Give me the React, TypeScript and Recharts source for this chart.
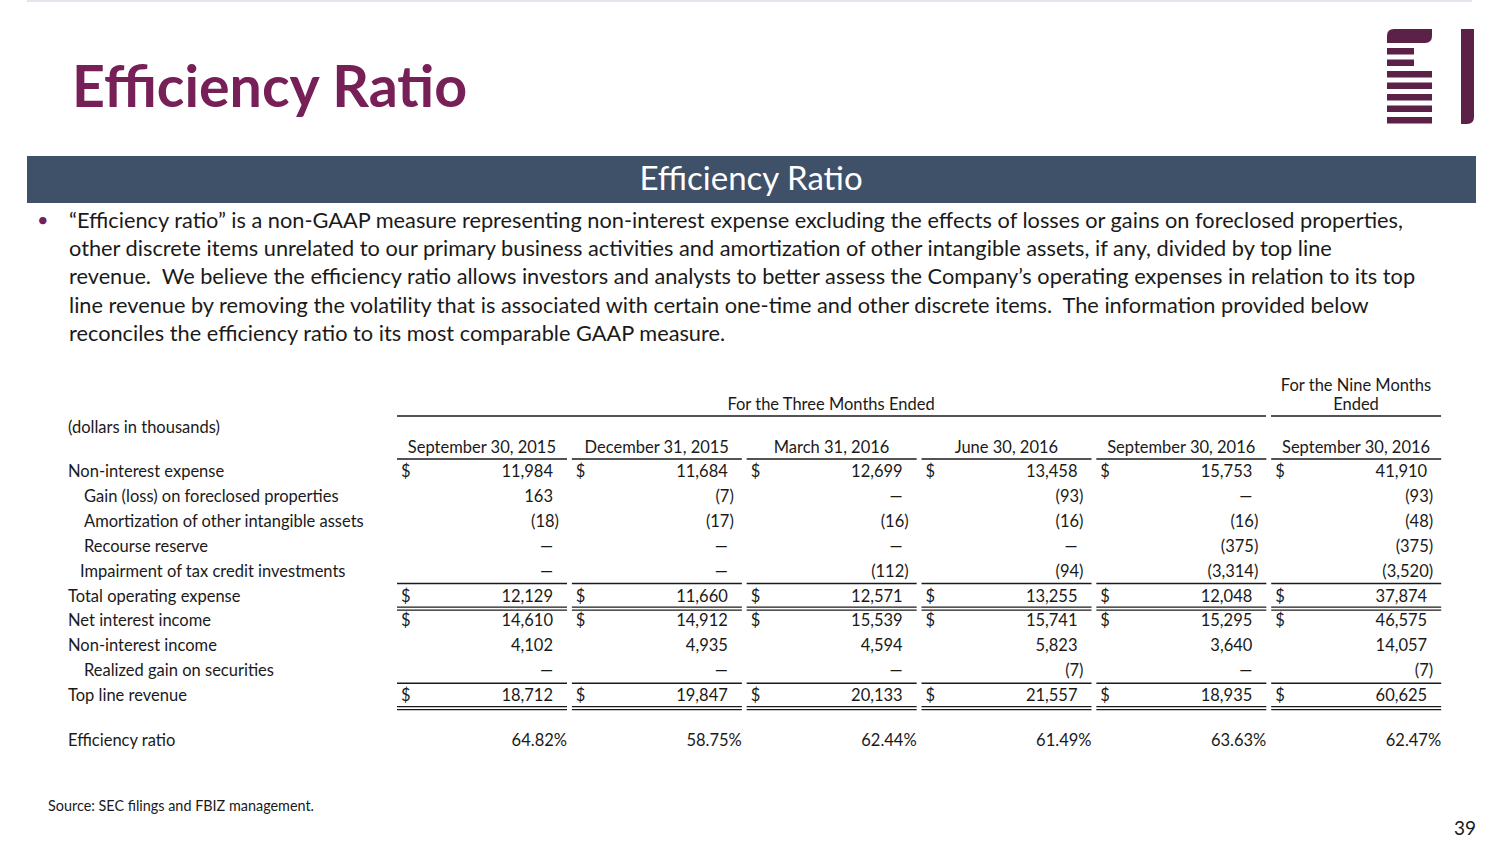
import React from "react";
import { ScatterChart, Scatter, XAxis, YAxis } from "recharts";

// column keys (two columns share the same date label, so keys are separate)
const periodKeys = ["q3_2015", "q4_2015", "q1_2016", "q2_2016", "q3_2016", "ytd_2016"];
const periodLabels = [
  "September 30, 2015",
  "December 31, 2015",
  "March 31, 2016",
  "June 30, 2016",
  "September 30, 2016",
  "September 30, 2016",
];

const rowLabels = [
  "Non-interest expense",
  "Gain (loss) on foreclosed properties",
  "Amortization of other intangible assets",
  "Recourse reserve",
  "Impairment of tax credit investments",
  "Total operating expense",
  "Net interest income",
  "Non-interest income",
  "Realized gain on securities",
  "Top line revenue",
  " ",
  "Efficiency ratio",
];

// null = dash, negative = shown in parentheses
const nonInterestExpense = [11984, 11684, 12699, 13458, 15753, 41910];
const foreclosedGainLoss = [163, -7, null, -93, null, -93];
const intangibleAmortization = [-18, -17, -16, -16, -16, -48];
const recourseReserve = [null, null, null, null, -375, -375];
const taxCreditImpairment = [null, null, -112, -94, -3314, -3520];
const totalOperatingExpense = [12129, 11660, 12571, 13255, 12048, 37874];
const netInterestIncome = [14610, 14912, 15539, 15741, 15295, 46575];
const nonInterestIncome = [4102, 4935, 4594, 5823, 3640, 14057];
const realizedGainSecurities = [null, null, null, -7, null, -7];
const topLineRevenue = [18712, 19847, 20133, 21557, 18935, 60625];
const efficiencyRatio = [64.82, 58.75, 62.44, 61.49, 63.63, 62.47];

const rowSeries = [
  nonInterestExpense,
  foreclosedGainLoss,
  intangibleAmortization,
  recourseReserve,
  taxCreditImpairment,
  totalOperatingExpense,
  netInterestIncome,
  nonInterestIncome,
  realizedGainSecurities,
  topLineRevenue,
  null,
  efficiencyRatio,
];

const dollarRows = [0, 5, 6, 9];
const indentRows: Record<number, number> = { 1: 16, 2: 16, 3: 16, 4: 12, 8: 16 };
const rowShift: Record<number, number> = { 11: -5.5 };
const singleAbove = [5, 9];
const doubleBelow = [5, 9];

const FONT = "Lato, 'Open Sans', sans-serif";
const INK = "#1a1a1a";
const PURPLE = "#772057";
const BAND = 174.8;
const FS = 16.5;

const fmt = (v: number | null, row: number) => {
  if (row === 11 && v != null) return v.toFixed(2) + "%";
  if (v == null) return "—";
  const s = Math.abs(v).toLocaleString("en-US");
  return v < 0 ? `(${s})` : s;
};

const columnData = periodKeys.map((key, c) =>
  rowLabels.map((label, r) => ({
    period: key,
    row: label,
    rowIndex: r,
    text: rowSeries[r] ? fmt(rowSeries[r]![c], r) : "",
  }))
);

function CellMark(props: any) {
  const { cx, payload } = props;
  const r = payload.rowIndex;
  const cy = props.cy + (rowShift[r] || 0);
  const text: string = payload.text;
  const half = BAND / 2;
  let anchorX = cx + 68.6;
  if (text.endsWith(")")) anchorX = cx + 74.6;
  if (text.endsWith("%")) anchorX = cx + 82.6;
  const x1 = cx - half;
  const x2 = cx + half - 4.8;
  return (
    <g>
      {text && (
        <text x={anchorX} y={cy + 5.5} textAnchor="end" fontSize={FS} fill={INK} fontFamily={FONT}>
          {text}
        </text>
      )}
      {dollarRows.includes(r) && (
        <text x={cx - 83.4} y={cy + 5.5} fontSize={FS} fill={INK} fontFamily={FONT}>
          $
        </text>
      )}
      {singleAbove.includes(r) && <line x1={x1} x2={x2} y1={cy - 12.5} y2={cy - 12.5} stroke={INK} strokeWidth={1.6} />}
      {doubleBelow.includes(r) && (
        <>
          <line x1={x1} x2={x2} y1={cy + 11} y2={cy + 11} stroke={INK} strokeWidth={1.2} />
          <line x1={x1} x2={x2} y1={cy + 14} y2={cy + 14} stroke={INK} strokeWidth={1.2} />
        </>
      )}
    </g>
  );
}

function PeriodTick(props: any) {
  const { x, index } = props;
  return (
    <g>
      <text x={x - 2.5} y={452.5} textAnchor="middle" fontSize={FS} fill={INK} fontFamily={FONT}>
        {periodLabels[index]}
      </text>
      <line x1={x - BAND / 2} x2={x + BAND / 2 - 4.8} y1={459} y2={459} stroke={INK} strokeWidth={1.6} />
    </g>
  );
}

function RowTick(props: any) {
  const { payload, index } = props;
  const r = rowLabels.indexOf(payload.value);
  const y = props.y + (rowShift[r] || 0);
  return (
    <text x={68 + (indentRows[r] || 0)} y={y + 5.5} fontSize={FS} fill={INK} fontFamily={FONT} key={index}>
      {payload.value}
    </text>
  );
}

const bulletLines = [
  "“Efficiency ratio” is a non-GAAP measure representing non-interest expense excluding the effects of losses or gains on foreclosed properties,",
  "other discrete items unrelated to our primary business activities and amortization of other intangible assets, if any, divided by top line",
  "revenue.  We believe the efficiency ratio allows investors and analysts to better assess the Company’s operating expenses in relation to its top",
  "line revenue by removing the volatility that is associated with certain one-time and other discrete items.  The information provided below",
  "reconciles the efficiency ratio to its most comparable GAAP measure.",
];

function Slide() {
  const logo = "#5b2146";
  return (
    <svg width={1504} height={846} style={{ position: "absolute", left: 0, top: 0 }}>
      <rect x={0} y={0} width={1504} height={846} fill="#fff" />
      <line x1={27} x2={1472} y1={1} y2={1} stroke="#d9dee6" strokeWidth={1.5} />
      <text x={72} y={107} fontSize={57.3} fontWeight={700} fill={PURPLE} fontFamily={FONT}>
        Efficiency Ratio
      </text>
      {/* logo */}
      <path d="M1394 29 H1432 V36 Q1432 43 1425 43 H1387 V36 Q1387 29 1394 29 Z" fill={logo} />
      <rect x={1387} y={48} width={27} height={6.5} fill={logo} />
      <rect x={1387} y={59.5} width={27} height={6.5} fill={logo} />
      {[71, 82.5, 94, 105.5, 117].map((y) => (
        <rect key={y} x={1387} y={y} width={45} height={6.5} fill={logo} />
      ))}
      <path d="M1461 29 H1474 V117 Q1474 124 1467 124 H1461 Z" fill={logo} />

      <rect x={27} y={156} width={1449} height={47} fill="#3f5069" />
      <text x={751} y={190} textAnchor="middle" fontSize={33} fill="#fff" fontFamily={FONT}>
        Efficiency Ratio
      </text>

      <text x={37} y={227} fontSize={20} fill={PURPLE} fontFamily={FONT}>
        •
      </text>
      {bulletLines.map((l, i) => (
        <text key={i} x={69} y={228 + i * 28.2} fontSize={21.75} fill={INK} fontFamily={FONT} xmlSpace="preserve">
          {l}
        </text>
      ))}

      <text x={1356} y={390.5} textAnchor="middle" fontSize={FS} fill={INK} fontFamily={FONT}>
        For the Nine Months
      </text>
      <text x={1356} y={409.5} textAnchor="middle" fontSize={FS} fill={INK} fontFamily={FONT}>
        Ended
      </text>
      <text x={831} y={409.5} textAnchor="middle" fontSize={FS} fill={INK} fontFamily={FONT}>
        For the Three Months Ended
      </text>
      <line x1={397} x2={1266} y1={416} y2={416} stroke={INK} strokeWidth={1.6} />
      <line x1={1271} x2={1441} y1={416} y2={416} stroke={INK} strokeWidth={1.6} />
      <text x={68} y={432.5} fontSize={FS} fill={INK} fontFamily={FONT}>
        (dollars in thousands)
      </text>

      <text x={48} y={811} fontSize={14.4} fill={INK} fontFamily={FONT}>
        Source: SEC filings and FBIZ management.
      </text>
      <text x={1476} y={835} textAnchor="end" fontSize={19} fill={INK} fontFamily={FONT}>
        39
      </text>
    </svg>
  );
}

export default function App() {
  return (
    <div style={{ position: "absolute", left: 0, top: 0, width: 1504, height: 846, overflow: "hidden", background: "#fff" }}>
      <Slide />
      <div style={{ position: "absolute", left: 0, top: 0 }}>
        <ScatterChart width={1504} height={846} margin={{ top: 429, right: 58, bottom: 88, left: 0 }}>
          <XAxis
            xAxisId={0}
            dataKey="period"
            type="category"
            orientation="top"
            height={30}
            allowDuplicatedCategory={false}
            axisLine={false}
            tickLine={false}
            tick={<PeriodTick />}
            interval={0}
          />
          <YAxis
            yAxisId={0}
            dataKey="row"
            type="category"
            width={397}
            allowDuplicatedCategory={false}
            axisLine={false}
            tickLine={false}
            tick={<RowTick />}
            interval={0}
            reversed
          />
          {columnData.map((d, i) => (
            <Scatter key={periodKeys[i]} data={d} shape={<CellMark />} isAnimationActive={false} legendType="none" />
          ))}
        </ScatterChart>
      </div>
    </div>
  );
}
